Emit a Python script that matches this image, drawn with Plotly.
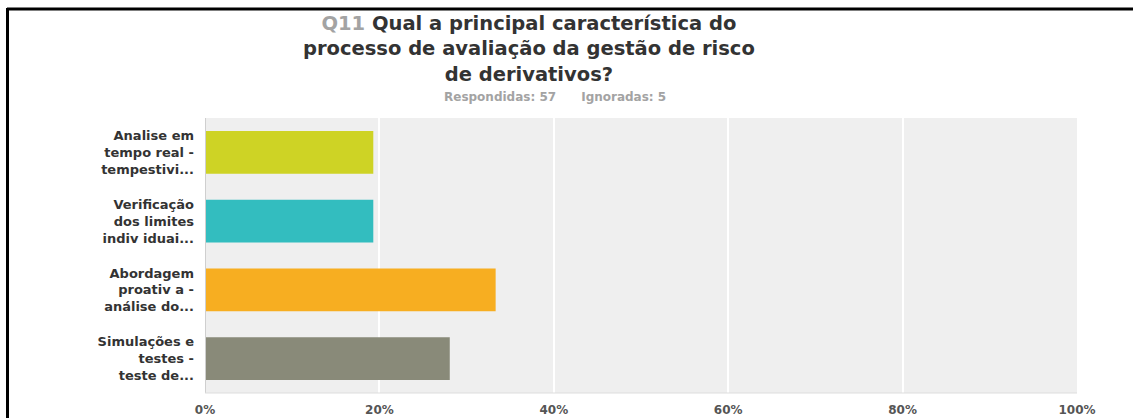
import plotly.graph_objects as go

categories = [
    "Analise em<br>tempo real -<br>tempestivi...",
    "Verificação<br>dos limites<br>indiv iduai...",
    "Abordagem<br>proativ a -<br>análise do...",
    "Simulações e<br>testes -<br>teste de...",
]
values = [19.30, 19.30, 33.33, 28.07]
colors = ["#CED325", "#33BDBF", "#F7AE21", "#898A79"]
x_ticks = [0, 20, 40, 60, 80, 100]
x_tick_labels = ["0%", "20%", "40%", "60%", "80%", "100%"]
title_lines = [
    "<span style='color:#A3A3A3'>Q11</span> Qual a principal característica do",
    "processo de avaliação da gestão de risco",
    "de derivativos?",
]
subtitle = "Respondidas: 57&nbsp;&nbsp;&nbsp;&nbsp;&nbsp;&nbsp;Ignoradas: 5"

W, H = 1133, 418
L, R, T, B = 205, 56, 118, 25
pw = W - L - R
ph = H - T - B

def px_x(x):
    return (x - L) / pw

def px_y(y):
    return 1 - (y - T) / ph

font_fam = "DejaVu Sans"

fig = go.Figure()
fig.add_trace(go.Bar(
    y=categories, x=values, orientation="h",
    marker=dict(color=colors, line=dict(width=0)),
    hoverinfo="skip",
))

fig.update_layout(
    width=W, height=H,
    margin=dict(l=L, r=R, t=T, b=B, pad=0, autoexpand=False),
    paper_bgcolor="white",
    plot_bgcolor="#EFEFEF",
    bargap=0.38,
    showlegend=False,
    xaxis=dict(
        range=[0, 100], tickvals=x_ticks, ticktext=x_tick_labels,
        showgrid=True, gridcolor="#FFFFFF", gridwidth=2,
        zeroline=False, showline=False, automargin=False,
        tickfont=dict(family=font_fam, size=12, color="#555555", weight="bold"),
        ticks="", fixedrange=True, ticklabelstandoff=8,
    ),
    yaxis=dict(
        autorange="reversed", showgrid=False, zeroline=False,
        showline=False, ticks="", automargin=False,
        tickfont=dict(family=font_fam, size=13, color="#333333", weight="bold"),
        ticklabelstandoff=10, fixedrange=True,
    ),
    annotations=[
        dict(
            text="<br>".join(title_lines),
            x=px_x(529), y=px_y(49), xref="paper", yref="paper",
            showarrow=False, xanchor="center", yanchor="middle", align="center",
            font=dict(family=font_fam, size=19.5, color="#333333", weight="bold"),
        ),
        dict(
            text=subtitle,
            x=px_x(555), y=px_y(97), xref="paper", yref="paper",
            showarrow=False, xanchor="center", yanchor="middle",
            font=dict(family=font_fam, size=12, color="#A3A3A3", weight="bold"),
        ),
    ],
)

shapes = [
    dict(type="line", xref="x", yref="paper", x0=0, x1=0, y0=0, y1=1,
         line=dict(color="#CFCFCF", width=2), layer="above"),
    dict(type="line", xref="paper", yref="paper", x0=0, x1=1, y0=0, y1=0,
         line=dict(color="#DDDDDD", width=1)),
    dict(type="line", xref="paper", yref="paper", x0=px_x(7), x1=px_x(W + 5),
         y0=px_y(9), y1=px_y(9), line=dict(color="black", width=3)),
    dict(type="line", xref="paper", yref="paper", x0=px_x(7.5), x1=px_x(7.5),
         y0=px_y(8), y1=px_y(H + 5), line=dict(color="black", width=3)),
]
fig.update_layout(shapes=shapes)

fig.write_html("out.html", config={"displayModeBar": False},
               post_script="document.body.style.margin='0';")
